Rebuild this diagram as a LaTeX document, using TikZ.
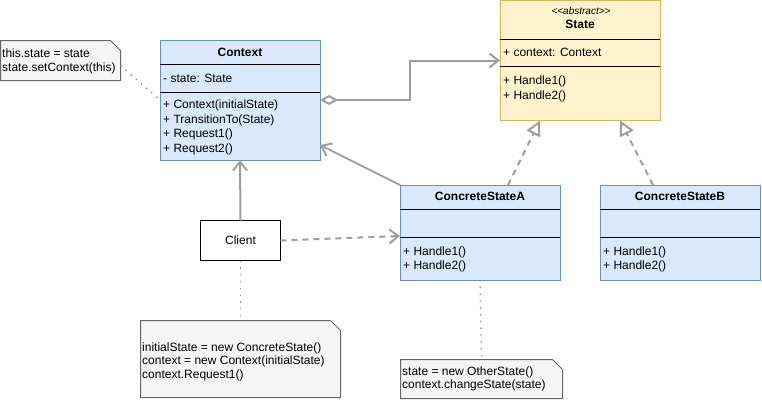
\documentclass[tikz,border=0pt]{standalone}
\usepackage{fontspec}
\setmainfont{Liberation Sans}
\usetikzlibrary{arrows.meta,calc}
\definecolor{bfill}{HTML}{DAE8FC}
\definecolor{bstroke}{HTML}{6C8EBF}
\definecolor{yfill}{HTML}{FFF2CC}
\definecolor{ystroke}{HTML}{D6B656}
\definecolor{nfill}{HTML}{F5F5F5}
\definecolor{nstroke}{HTML}{666666}
\definecolor{egray}{HTML}{9E9E9E}
\begin{document}
\begin{tikzpicture}[x=1pt,y=-1pt,
  bluebox/.style={draw=bstroke, fill=bfill, line width=1pt, anchor=north west, inner sep=0pt, outer sep=0pt},
  yellowbox/.style={draw=ystroke, fill=yfill, line width=1pt, anchor=north west, inner sep=0pt, outer sep=0pt},
  plainbox/.style={draw=black, fill=white, line width=1pt, anchor=north west, inner sep=0pt, outer sep=0pt},
  noteframe/.style={anchor=north west, inner sep=0pt, outer sep=0pt},
  noteline/.style={draw=nstroke, fill=nfill, line width=1pt},
  sepline/.style={draw=black, line width=1pt},
  txt/.style={anchor=base west, inner sep=0pt, font=\fontsize{12}{14}\selectfont},
  ctxt/.style={anchor=base, inner sep=0pt, font=\fontsize{12}{14}\selectfont},
  btxt/.style={anchor=base, inner sep=0pt, font=\fontsize{12}{14}\selectfont\bfseries},
  edge/.style={draw=egray, line width=2pt},
  dotline/.style={draw=egray!85!black, line width=1.3pt, dash pattern=on 1.3pt off 5.5pt},
  openarrow/.style={-{Straight Barb[length=9pt,width=14pt]}},
  realize/.style={-{Triangle[open,fill=white,length=15pt,width=15pt]}, dash pattern=on 6pt off 5pt}
]
\useasboundingbox (0,0) rectangle (762,402);

% ---------- classes ----------
\node[bluebox, minimum width=160, minimum height=120] (ctx) at (160,40) {};
\draw[sepline] (ctx.west |- 0,64) -- (ctx.east |- 0,64);
\draw[sepline] (ctx.west |- 0,92) -- (ctx.east |- 0,92);
\node[btxt] (ctxh) at (240,56) {Context};
\node[txt] (ctxa) at (163,82) {- state: State};
\node[txt] (ctxm1) at (163,108.5) {+ Context(initialState)};
\node[txt] (ctxm2) at (163,123) {+ TransitionTo(State)};
\node[txt] (ctxm3) at (163,137.5) {+ Request1()};
\node[txt] (ctxm4) at (163,152) {+ Request2()};

\node[yellowbox, minimum width=160, minimum height=120] (state) at (500,0.5) {};
\draw[sepline] (state.west |- 0,39) -- (state.east |- 0,39);
\draw[sepline] (state.west |- 0,66) -- (state.east |- 0,66);
\node[anchor=base, inner sep=0pt, font=\fontsize{10}{12}\selectfont\itshape] (sth0) at (581,14) {<{}<abstract>{}>};
\node[btxt] (sth) at (580,28.5) {State};
\node[txt] (sta) at (503,56.5) {+ context: Context};
\node[txt] (stm1) at (503,84.5) {+ Handle1()};
\node[txt] (stm2) at (503,99) {+ Handle2()};

\node[bluebox, minimum width=160, minimum height=95] (csa) at (400,185) {};
\draw[sepline] (csa.west |- 0,209) -- (csa.east |- 0,209);
\draw[sepline] (csa.west |- 0,237) -- (csa.east |- 0,237);
\node[btxt] (csah) at (480,200.5) {ConcreteStateA};
\node[txt] (csam1) at (403,255.5) {+ Handle1()};
\node[txt] (csam2) at (403,269.5) {+ Handle2()};

\node[bluebox, minimum width=160, minimum height=95] (csb) at (600,185) {};
\draw[sepline] (csb.west |- 0,209) -- (csb.east |- 0,209);
\draw[sepline] (csb.west |- 0,237) -- (csb.east |- 0,237);
\node[btxt] (csbh) at (680,200.5) {ConcreteStateB};
\node[txt] (csbm1) at (603,255.5) {+ Handle1()};
\node[txt] (csbm2) at (603,269.5) {+ Handle2()};

\node[plainbox, minimum width=80, minimum height=40] (client) at (200.5,220.5) {};
\node[ctxt] (clientt) at (240.5,244.5) {Client};

% ---------- notes ----------
\node[noteframe, minimum width=120, minimum height=40] (n1) at (0.5,40.5) {};
\draw[noteline] (n1.north west) -- ($(n1.north east)+(-10,0)$) -- ($(n1.north east)+(0,10)$) -- (n1.south east) -- (n1.south west) -- cycle;
\node[txt] (n1a) at (2,57.5) {this.state = state};
\node[txt] (n1b) at (2,71) {state.setContext(this)};

\node[noteframe, minimum width=200, minimum height=77] (n2) at (140.5,320.5) {};
\draw[noteline] (n2.north west) -- ($(n2.north east)+(-10,0)$) -- ($(n2.north east)+(0,10)$) -- (n2.south east) -- (n2.south west) -- cycle;
\node[txt] (n2a) at (142,351) {initialState = new ConcreteState()};
\node[txt] (n2b) at (142,364.5) {context = new Context(initialState)};
\node[txt] (n2c) at (142,378.5) {context.Request1()};

\node[noteframe, minimum width=162, minimum height=39] (n3) at (400.5,359.5) {};
\draw[noteline] (n3.north west) -- ($(n3.north east)+(-10,0)$) -- ($(n3.north east)+(0,10)$) -- (n3.south east) -- (n3.south west) -- cycle;
\node[txt] (n3a) at (402,375) {state = new OtherState()};
\node[txt] (n3b) at (402,388.5) {context.changeState(state)};

% ---------- connectors ----------
\draw[edge, {Diamond[fill=white,length=18pt,width=10pt]}-{Straight Barb[length=9pt,width=14pt]}]
  (ctx.east) -- ++(90,0) |- (state.west);
\draw[edge, openarrow] (csa.north west) -- ($(ctx.south east)+(0,-15)$);
\draw[edge, realize] ($(csa.north west)+(108,0)$) -- ($(state.south west)+(40,0)$);
\draw[edge, realize] ($(csb.north west)+(53,0)$) -- ($(state.south east)+(-40,0)$);
\draw[edge, openarrow] (client.north) -- (ctx.south);
\draw[edge, openarrow, dash pattern=on 6pt off 5pt] (client.east) -- ($(csa.north west)+(0,51)$);

\draw[dotline] ($(n1.east)+(0,5)$) -- (ctx.west);
\draw[dotline] (client.south) -- (n2.north);
\draw[dotline] (csa.south) -- (n3.north);
\end{tikzpicture}
\end{document}
